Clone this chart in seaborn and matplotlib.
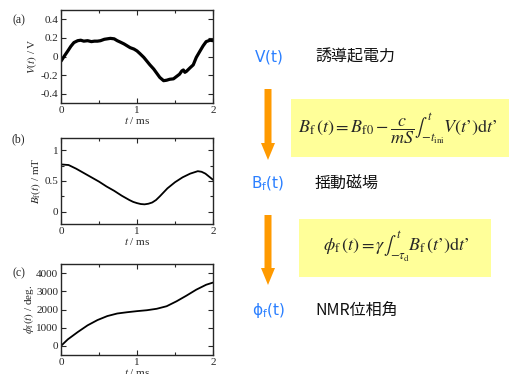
import numpy as np
import pandas as pd
import matplotlib
matplotlib.use('Agg')
import matplotlib.pyplot as plt
from matplotlib.patches import Rectangle, FancyArrow
from matplotlib.ticker import MultipleLocator
import seaborn as sns

# datos
t_v = [0, 0.04, 0.09, 0.13, 0.17, 0.22, 0.26, 0.30, 0.35, 0.40, 0.44, 0.48, 0.52, 0.57, 0.61,
       0.65, 0.70, 0.74, 0.78, 0.83, 0.87, 0.91, 0.96, 1.00, 1.04, 1.09, 1.13, 1.17, 1.22, 1.26,
       1.30, 1.35, 1.39, 1.43, 1.48, 1.52, 1.56, 1.59, 1.61, 1.63, 1.65, 1.70, 1.74, 1.78, 1.83,
       1.87, 1.91, 1.96, 2.00]
v_t = [-0.05, 0.0, 0.06, 0.11, 0.15, 0.17, 0.175, 0.165, 0.17, 0.16, 0.165, 0.165, 0.17, 0.185, 0.19,
       0.195, 0.19, 0.17, 0.155, 0.135, 0.115, 0.095, 0.08, 0.06, 0.03, -0.01, -0.05, -0.09, -0.135, -0.18,
       -0.225, -0.26, -0.255, -0.245, -0.24, -0.215, -0.19, -0.155, -0.145, -0.17, -0.16, -0.12, -0.09, -0.01, 0.06,
       0.115, 0.16, 0.175, 0.17]

t_b = [0, 0.1, 0.2, 0.3, 0.4, 0.5, 0.6, 0.7, 0.8, 0.9, 0.95, 1.0, 1.05, 1.1, 1.15, 1.2, 1.25,
       1.3, 1.4, 1.5, 1.6, 1.7, 1.8, 1.85, 1.9, 1.95, 2.0]
b_t = [0.77, 0.76, 0.70, 0.63, 0.56, 0.49, 0.41, 0.34, 0.26, 0.19, 0.16, 0.14, 0.125, 0.12, 0.13, 0.15, 0.19,
       0.25, 0.38, 0.48, 0.56, 0.62, 0.66, 0.65, 0.62, 0.57, 0.52]

t_p = [0, 0.09, 0.22, 0.35, 0.48, 0.61, 0.74, 0.87, 1.00, 1.13, 1.26, 1.39, 1.52, 1.65, 1.78, 1.91, 2.00]
phi_t = [0, 360, 760, 1130, 1420, 1640, 1780, 1850, 1910, 1960, 2040, 2180, 2450, 2760, 3090, 3360, 3480]

sns.set_style('ticks')
plt.rcParams['font.family'] = ['Liberation Serif', 'DejaVu Serif']
plt.rcParams['mathtext.fontset'] = 'stix'
plt.rcParams['font.size'] = 8
plt.rcParams['axes.linewidth'] = 1.0

fig = plt.figure(figsize=(5.09, 3.74), dpi=100)
W, H = 509, 374

def caja(x0, y0, x1, y1):
    return [x0 / W, 1 - y1 / H, (x1 - x0) / W, (y1 - y0) / H]

ax_a = fig.add_axes(caja(61, 10, 213, 103))
ax_b = fig.add_axes(caja(61, 138, 213, 224))
ax_c = fig.add_axes(caja(61, 264, 213, 355))

sns.lineplot(x=t_v, y=v_t, ax=ax_a, color='black', lw=2.3, sort=False, estimator=None)
sns.lineplot(x=t_b, y=b_t, ax=ax_b, color='black', lw=1.3, sort=False, estimator=None)
sns.lineplot(x=t_p, y=phi_t, ax=ax_c, color='black', lw=1.3, sort=False, estimator=None)

ax_a.set_ylim(-0.5, 0.5)
ax_a.set_yticks([-0.4, -0.2, 0, 0.2, 0.4])
ax_a.set_yticklabels(['-0.4', '-0.2', '0', '0.2', '0.4'])
ax_b.set_ylim(-0.2, 1.2)
ax_b.set_yticks([0, 0.5, 1])
ax_b.set_yticklabels(['0', '0.5', '1'])
ax_b.yaxis.set_minor_locator(MultipleLocator(0.25))
ax_c.set_ylim(-500, 4500)
ax_c.set_yticks([0, 1000, 2000, 3000, 4000])

ax_a.set_ylabel('$V(t)$ / V', labelpad=1)
ax_b.set_ylabel(r'$B_{\rm f}(t)$ / mT', labelpad=1)
ax_c.set_ylabel(r'$\phi_{\rm f}(t)$ / deg.', labelpad=0)

pos_etiqueta = [0.89, 0.98, 0.90]
for ax, etiqueta, yy in zip([ax_a, ax_b, ax_c], ['(a)', '(b)', '(c)'], pos_etiqueta):
    ax.set_xlim(0, 2)
    ax.set_xticks([0, 1, 2])
    ax.set_xticklabels(['0', '1', '2'])
    ax.xaxis.set_minor_locator(MultipleLocator(0.5))
    ax.set_xlabel('$t$ / ms', labelpad=0)
    ax.tick_params(which='both', direction='in', top=True, right=True, pad=2, labelsize=8)
    ax.tick_params(which='major', length=3.5, width=0.8)
    ax.tick_params(which='minor', length=2, width=0.8)
    ax.text(-0.235, yy, etiqueta, transform=ax.transAxes, fontsize=8.5, ha='right', va='center')

# lado derecho: diagrama
ov = fig.add_axes([0, 0, 1, 1])
ov.set_xlim(0, W)
ov.set_ylim(H, 0)
ov.axis('off')

azul = '#2a7fff'
naranja = '#ff9a00'
amarillo = '#ffff99'

ov.add_patch(Rectangle((291, 99), 218, 58, color=amarillo, lw=0))
ov.add_patch(Rectangle((299, 219), 192, 58, color=amarillo, lw=0))

for y0, y1 in [(89, 160), (215, 285)]:
    ov.add_patch(FancyArrow(268, y0, 0, y1 - y0, width=7, head_width=14, head_length=17,
                            length_includes_head=True, color=naranja, lw=0))

etiquetas = [r'$\mathrm{V(t)}$', r'$\mathrm{B_f(t)}$', r'$\mathrm{\phi_f(t)}$']
nombres = ['誘導起電力', '揺動磁場', 'NMR位相角']
filas = [57, 184, 310]
for lab, nom, y in zip(etiquetas, nombres, filas):
    ov.text(268, y, lab, color=azul, fontsize=11, ha='center', va='center',
            math_fontfamily='dejavusans')
    ov.text(315, y, nom, fontsize=11.5, ha='left', va='center',
            family=['Noto Sans CJK JP', 'DejaVu Sans'], color='#111111')

ov.text(398, 129, r"$B_{\rm f}\,(t) = B_{\rm f0} - \dfrac{c}{mS}\int_{-t_{\rm ini}}^{t} V(t’)\mathrm{d}t’$",
        fontsize=13, ha='center', va='center', math_fontfamily='stix')
ov.text(396, 247, r"$\phi_{\rm f}\,(t) = \gamma\int_{-\tau_{\rm d}}^{t} B_{\rm f}\,(t’)\mathrm{d}t’$",
        fontsize=13, ha='center', va='center', math_fontfamily='stix')

fig.savefig('out.png', dpi=100)
